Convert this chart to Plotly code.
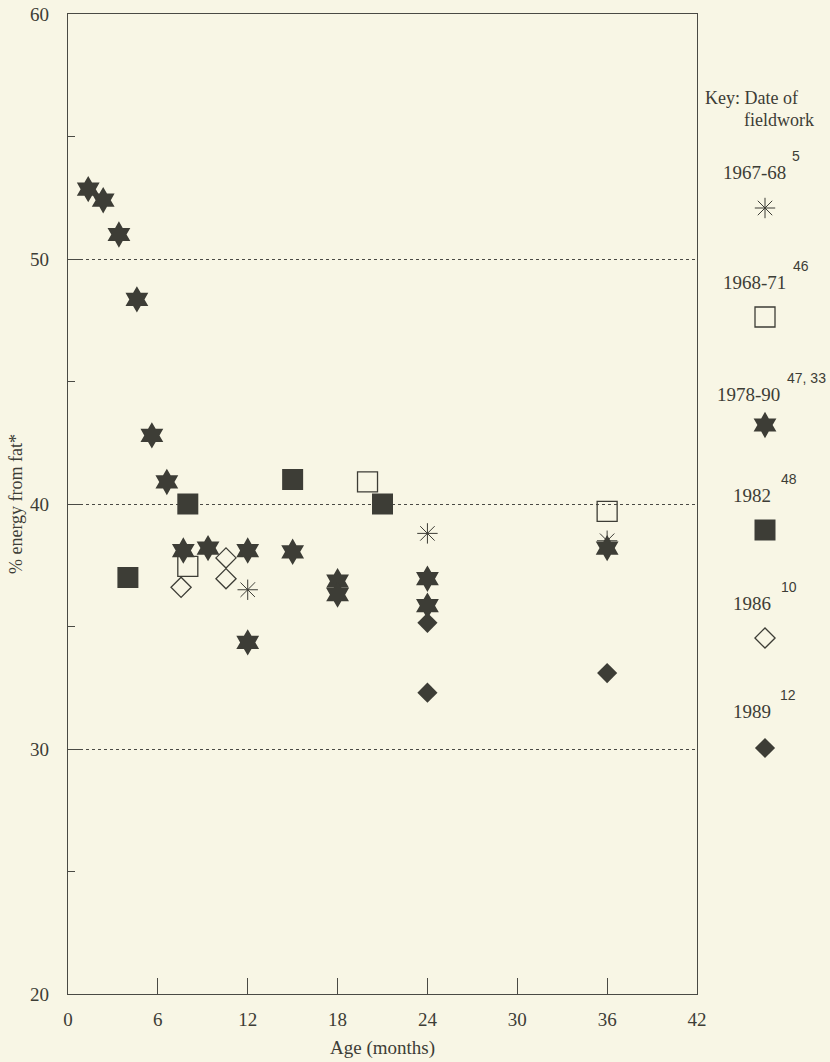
import plotly.graph_objects as go

# ---- data (age in months, % energy from fat) ----
ast_x = [12, 24, 36]
ast_y = [36.5, 38.8, 38.5]

osq_x = [8, 20, 36]
osq_y = [37.45, 40.9, 39.7]

star_x = [1.35, 2.35, 3.4, 4.6, 5.6, 6.6, 7.7, 9.35, 12, 12, 15, 18, 18, 24, 24, 36]
star_y = [52.85, 52.4, 51.0, 48.35, 42.8, 40.9, 38.1, 38.2, 38.1, 34.35, 38.05, 36.85, 36.3, 36.95, 35.85, 38.2]

fsq_x = [4, 8, 15, 21]
fsq_y = [37.0, 40.0, 41.0, 40.0]

odia_x = [7.55, 10.55, 10.55]
odia_y = [36.6, 37.8, 36.95]

fdia_x = [24, 24, 36]
fdia_y = [35.15, 32.3, 33.1]

x_ticks = [0, 6, 12, 18, 24, 30, 36, 42]
y_ticks = [20, 30, 40, 50, 60]

key_labels = ["1967-68", "1968-71", "1978-90", "1982", "1986", "1989"]
key_refs = ["5", "46", "47, 33", "48", "10", "12"]

# ---- styling ----
BG = "#f8f6e5"
INK = "#3d3d36"
LINE = "#4a4a44"
SERIF = "Liberation Serif"
SANS = "Liberation Sans"

W, H = 830, 1062
ML, MT, MB = 68, 14, 68
PLOT_R = 697  # pixel of right border of main plot
paper_w = W - ML
main_dom = (PLOT_R - ML) / paper_w

styles = [
    dict(symbol="asterisk-open", size=17, color=INK, line=dict(color=INK, width=1)),
    dict(symbol="square-open", size=20, color=INK, line=dict(color=INK, width=1.3)),
    dict(symbol="hexagram", size=20, color=INK, line=dict(width=0)),
    dict(symbol="square", size=21, color=INK, line=dict(width=0)),
    dict(symbol="diamond-open", size=15.5, color=INK, line=dict(color=INK, width=1.3)),
    dict(symbol="diamond", size=15.5, color=INK, line=dict(width=0)),
]
series = [(ast_x, ast_y), (osq_x, osq_y), (star_x, star_y),
          (fsq_x, fsq_y), (odia_x, odia_y), (fdia_x, fdia_y)]

fig = go.Figure()
for (sx, sy), st, lab in zip(series, styles, key_labels):
    fig.add_trace(go.Scatter(x=sx, y=sy, mode="markers", marker=st,
                             name=lab, showlegend=False, cliponaxis=False,
                             xaxis="x", yaxis="y"))

# key (drawn on a pixel-mapped overlay axis on the right)
key_marker_px = [208, 317, 425, 530, 638, 748]
key_label_px = [172, 282, 394, 495, 603, 711]
key_label_cx = [754, 754, 748, 752, 752, 752]
key_ref_x = [790, 791, 785, 779, 779, 778]
for st, my in zip(styles, key_marker_px):
    fig.add_trace(go.Scatter(x=[765], y=[my], mode="markers", marker=st,
                             showlegend=False, cliponaxis=False,
                             xaxis="x2", yaxis="y2"))

ann = []
ann.append(dict(x=703, y=98, xref="x2", yref="y2", text="Key: Date of",
                showarrow=False, xanchor="left", yanchor="middle",
                font=dict(family=SERIF, size=18, color=INK)))
ann.append(dict(x=742, y=120, xref="x2", yref="y2", text="fieldwork",
                showarrow=False, xanchor="left", yanchor="middle",
                font=dict(family=SERIF, size=18, color=INK)))
for lab, ref, ly, lx, rx in zip(key_labels, key_refs, key_label_px, key_label_cx, key_ref_x):
    ann.append(dict(x=lx, y=ly, xref="x2", yref="y2", text=lab,
                    showarrow=False, xanchor="center", yanchor="middle",
                    font=dict(family=SERIF, size=19, color=INK)))
    ann.append(dict(x=rx, y=ly - 16, xref="x2", yref="y2", text=ref,
                    showarrow=False, xanchor="left", yanchor="middle",
                    font=dict(family=SANS, size=14, color=INK)))

fig.update_layout(
    width=W, height=H,
    margin=dict(l=ML, r=0, t=MT, b=MB, pad=0, autoexpand=False),
    paper_bgcolor=BG, plot_bgcolor=BG,
    showlegend=False,
    annotations=ann,
    xaxis=dict(domain=[0, main_dom], range=[0, 42], tickvals=x_ticks,
               ticks="inside", ticklen=16, tickcolor=LINE, tickwidth=1,
               showline=True, linecolor=LINE, linewidth=1.3, mirror=True,
               showgrid=False, zeroline=False, automargin=False,
               tickfont=dict(family=SERIF, size=19, color=INK),
               ticklabelstandoff=8,
               title=dict(text="Age (months)", standoff=11,
                          font=dict(family=SERIF, size=19, color=INK))),
    yaxis=dict(range=[20, 60], tickvals=y_ticks,
               ticks="inside", ticklen=15, tickcolor=LINE, tickwidth=1,
               showline=True, linecolor=LINE, linewidth=1.3, mirror=True,
               showgrid=True, gridcolor=LINE, gridwidth=1, griddash="dot",
               zeroline=False, automargin=False,
               minor=dict(tickvals=[25, 35, 45, 55], ticks="inside", ticklen=7,
                          tickcolor=LINE, showgrid=False),
               tickfont=dict(family=SERIF, size=19, color=INK),
               ticklabelstandoff=14,
               title=dict(text="% energy from fat*", standoff=2,
                          font=dict(family=SERIF, size=18, color=INK))),
    xaxis2=dict(domain=[main_dom, 1], range=[PLOT_R, W], visible=False,
                anchor="y2", automargin=False),
    yaxis2=dict(domain=[0, 1], range=[H - MB, MT], visible=False,
                anchor="x2", automargin=False),
)

fig.write_html(
    "out.html",
    config={"displayModeBar": False},
    post_script=("document.body.style.margin='0';"
                 "document.body.style.background='" + BG + "';"
                 "document.documentElement.style.background='" + BG + "';"),
)
